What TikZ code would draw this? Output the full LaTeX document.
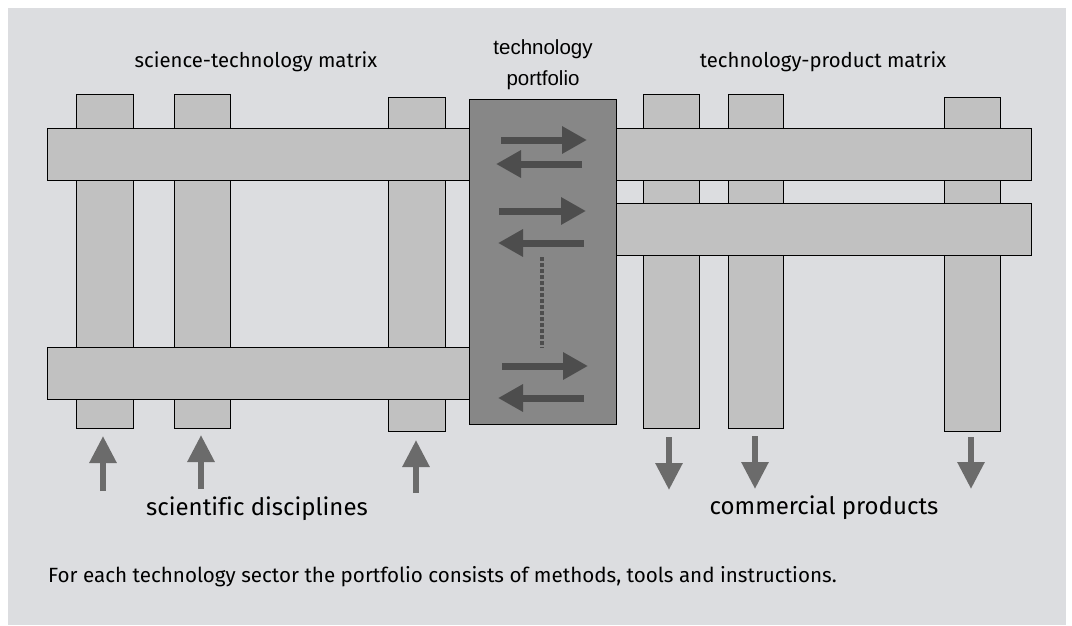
\documentclass[tikz,border=0pt]{standalone}
\usepackage{fontspec}
\setmainfont{Fira Sans}
\newfontfamily\labelfont[Ligatures=CommonOff]{Fira Sans}
\newfontfamily\arialfont{Liberation Sans}
\usetikzlibrary{arrows.meta}
\definecolor{panelgray}{HTML}{DCDDE0}
\definecolor{bargray}{HTML}{C1C1C1}
\definecolor{portgray}{HTML}{878787}
\definecolor{innerarrow}{HTML}{4D4D4D}
\definecolor{outerarrow}{HTML}{6B6B6B}
\tikzset{
  barbox/.style={draw=black, line width=0.9pt, fill=bargray, inner sep=0pt, outer sep=0pt},
  portbox/.style={draw=black, line width=0.9pt, fill=portgray, inner sep=0pt, outer sep=0pt},
  flowin/.style={draw=outerarrow, line width=6pt, -{Triangle[width=26pt,length=27pt]}},
  flowex/.style={draw=innerarrow, line width=7pt, -{Triangle[width=26pt,length=25pt]}},
  dots/.style={draw=innerarrow, line width=3.5pt, dash pattern=on 3.5pt off 2.5pt},
  toplabel/.style={anchor=base, inner sep=0pt, font=\labelfont\fontsize{20.3}{24}\selectfont},
  portlabel/.style={anchor=base, inner sep=0pt, font=\arialfont\fontsize{20.5}{24}\selectfont},
  botlabel/.style={anchor=base, inner sep=0pt, font=\labelfont\fontsize{24}{28}\selectfont},
  caption/.style={anchor=base west, inner sep=0pt, font=\labelfont\fontsize{20.6}{25}\selectfont}
}
\begin{document}
\begin{tikzpicture}[x=1pt, y=-1pt]
  % page and grey panel
  \useasboundingbox (0,0) rectangle (1072,625);
  \fill[white] (0,0) rectangle (1072,625);
  \fill[panelgray] (8,8) rectangle (1066,625);

  % vertical bars of the science-technology matrix
  \node[barbox, minimum width=57pt, minimum height=334pt] (c1) at (104.5,261) {};
  \node[barbox, minimum width=56pt, minimum height=334pt] (c2) at (202,261) {};
  \node[barbox, minimum width=57pt, minimum height=334pt] (c3) at (416.5,264) {};
  % vertical bars of the technology-product matrix
  \node[barbox, minimum width=56pt, minimum height=334pt] (c4) at (671,261) {};
  \node[barbox, minimum width=55pt, minimum height=334pt] (c5) at (755.5,261) {};
  \node[barbox, minimum width=56pt, minimum height=334pt] (c6) at (972,264) {};

  % horizontal bars
  \node[barbox, minimum width=422pt, minimum height=52pt] (h1) at (258,154) {};
  \node[barbox, minimum width=422pt, minimum height=52pt] (h2) at (258,373) {};
  \node[barbox, minimum width=415pt, minimum height=52pt] (h3) at (823.5,154) {};
  \node[barbox, minimum width=415pt, minimum height=52pt] (h4) at (823.5,229) {};

  % technology portfolio
  \node[portbox, minimum width=147pt, minimum height=325pt] (pf) at (542.5,261.5) {};

  % exchange arrows inside the portfolio
  \coordinate (r1a) at (501,140); \coordinate (r1b) at (587,140);
  \coordinate (l1a) at (582,164); \coordinate (l1b) at (496,164);
  \coordinate (r2a) at (499,211); \coordinate (r2b) at (586,211);
  \coordinate (l2a) at (584,243); \coordinate (l2b) at (498,243);
  \coordinate (d1) at (542,257);  \coordinate (d2) at (542,348);
  \coordinate (r3a) at (502,366); \coordinate (r3b) at (588,366);
  \coordinate (l3a) at (584,398); \coordinate (l3b) at (498,398);
  \draw[flowex] (r1a) -- (r1b);
  \draw[flowex] (l1a) -- (l1b);
  \draw[flowex] (r2a) -- (r2b);
  \draw[flowex] (l2a) -- (l2b);
  \draw[dots] (d1) -- (d2);
  \draw[flowex] (r3a) -- (r3b);
  \draw[flowex] (l3a) -- (l3b);

  % inputs from scientific disciplines
  \coordinate (s1) at (103,491);
  \coordinate (s2) at (201,489);
  \coordinate (s3) at (416,493);
  \draw[flowin, shorten >=8pt] (s1) -- (s1 |- c1.south);
  \draw[flowin, shorten >=7pt] (s2) -- (s2 |- c2.south);
  \draw[flowin, shorten >=9pt] (s3) -- (s3 |- c3.south);

  % outputs to commercial products
  \coordinate (p1) at (669,490);
  \coordinate (p2) at (755,489);
  \coordinate (p3) at (971,489);
  \draw[flowin, shorten <=9pt] (p1 |- c4.south) -- (p1);
  \draw[flowin, shorten <=8pt] (p2 |- c5.south) -- (p2);
  \draw[flowin, shorten <=6pt] (p3 |- c6.south) -- (p3);

  % labels
  \node[toplabel] (stm) at (256,67) {science-technology matrix};
  \node[portlabel] (tp1) at (543,54) {technology};
  \node[portlabel] (tp2) at (543,85) {portfolio};
  \node[toplabel] (tpm) at (823,67) {technology-product matrix};
  \node[botlabel] (sd) at (257,515) {scientific disciplines};
  \node[botlabel] (cp) at (824,514) {commercial products};
  \node[caption] (cap) at (48,582) {For each technology sector the portfolio consists of methods, tools and instructions.};
\end{tikzpicture}
\end{document}
